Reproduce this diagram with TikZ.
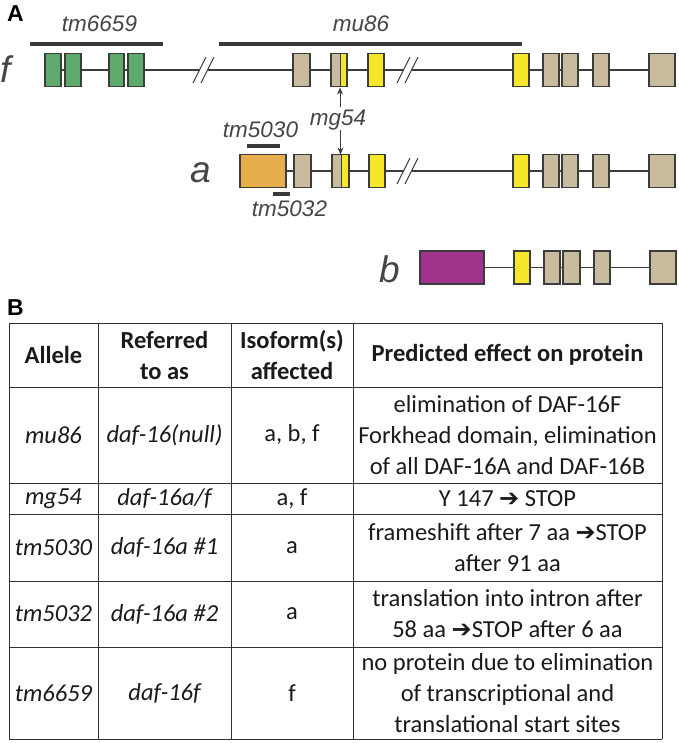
\documentclass[tikz,border=0pt]{standalone}
\usepackage{fontspec}
\setmainfont{Carlito}
\newfontfamily\arialfam{Liberation Sans}
\newfontfamily\dejavufam{DejaVu Sans}
\usetikzlibrary{arrows.meta}
\definecolor{ink}{HTML}{3C3C3C}
\definecolor{exgreen}{HTML}{5DAA6B}
\definecolor{extan}{HTML}{C9BB9E}
\definecolor{exyel}{HTML}{F7E72A}
\definecolor{exorg}{HTML}{E7AE4B}
\definecolor{exmag}{HTML}{A2338A}
\definecolor{txtgray}{HTML}{454545}
\definecolor{barcol}{HTML}{3A3A3A}
\definecolor{tabink}{HTML}{1A1A1A}
\tikzset{
 exonbox/.style={draw=ink, line width=1.1pt},
 intron/.style={draw=ink, line width=1.1pt},
 breakmark/.style={draw=ink, line width=1.1pt},
 delbar/.style={draw=barcol, line width=4.5pt},
 glabel/.style={font=\arialfam\itshape\fontsize{22.5}{27}\selectfont, text=txtgray, inner sep=0pt, anchor=base},
 rowlabel/.style={font=\arialfam\itshape\fontsize{37}{40}\selectfont, text=txtgray, inner sep=0pt, anchor=base},
 panel/.style={font=\arialfam\bfseries\fontsize{23}{26}\selectfont, inner sep=0pt, anchor=base west},
 tline/.style={draw=black!80, line width=1pt},
 cell/.style={font=\fontsize{24.5}{31}\selectfont, text=tabink, align=center, inner sep=0pt},
 hcell/.style={font=\bfseries\fontsize{24.5}{31}\selectfont, text=tabink, align=center, inner sep=0pt},
 mgarrow/.style={-{Stealth[length=7pt,width=6pt]}, draw=ink, line width=1pt},
}
\newcommand\exonrect[4]{\draw[exonbox, fill=#4] (#1,#3-16.5) rectangle (#2,#3+16.5);}
\newcommand\splitexon[4]{%
 \fill[extan] (#1,#4-16.5) rectangle (#2,#4+16.5);
 \fill[exyel] (#2,#4-16.5) rectangle (#3,#4+16.5);
 \draw[ink, line width=0.8pt] (#2,#4-16.5) -- (#2,#4+16.5);
 \draw[exonbox] (#1,#4-16.5) rectangle (#3,#4+16.5);}
\newcommand\brkmark[2]{%
 \draw[breakmark] (#1-10.5,#2+13) -- (#1+2.5,#2-13);
 \draw[breakmark] (#1-2.5,#2+13) -- (#1+10.5,#2-13);}
\newcommand\arr{{\dejavufam\fontsize{24}{28}\selectfont ➔}}
\begin{document}
\begin{tikzpicture}[x=1pt,y=-1pt]
\useasboundingbox (0,0) rectangle (678,743);
% ---------- Panel A ----------
\node[panel] (lblA) at (7,22) {A};
% deletion bars
\draw[delbar] (30,44) -- (163,44);
\draw[delbar] (219,44) -- (522,44);
\node[glabel] (ltm6659) at (99.5,32) {tm6659};
\node[glabel] (lmu86) at (361,32) {mu86};
% row f
\node[rowlabel] (rowf) at (6,83) {f};
\draw[intron] (45,70) -- (199.5,70);
\draw[intron] (207.5,70) -- (403.5,70);
\draw[intron] (411.5,70) -- (675,70);
\brkmark{203.5}{70}
\brkmark{407.5}{70}
\exonrect{45}{61}{70}{exgreen}
\exonrect{65}{81}{70}{exgreen}
\exonrect{109}{124}{70}{exgreen}
\exonrect{128}{144}{70}{exgreen}
\exonrect{293}{310}{70}{extan}
\splitexon{331}{340}{347}{70}
\exonrect{368}{384}{70}{exyel}
\exonrect{513}{529}{70}{exyel}
\exonrect{543}{559}{70}{extan}
\exonrect{562}{578}{70}{extan}
\exonrect{593}{609}{70}{extan}
\exonrect{649}{675}{70}{extan}
% mg54
\node[glabel] (lmg54) at (338,126) {mg54};
\coordinate (mgf) at (340,87.5);
\coordinate (mga) at (340.5,154.5);
\draw[mgarrow] (340,107) -- (mgf);
\draw[mgarrow] (340.5,130) -- (mga);
% row a
\node[rowlabel] (rowa) at (201,183) {a};
\draw[delbar] (247,146) -- (280,146);
\draw[delbar] (273,194) -- (290,194);
\node[glabel] (ltm5030) at (260.5,138) {tm5030};
\node[glabel] (ltm5032) at (289.5,217) {tm5032};
\draw[intron] (286,171) -- (403.5,171);
\draw[intron] (411.5,171) -- (675,171);
\brkmark{407.5}{171}
\exonrect{240}{286}{171}{exorg}
\exonrect{294}{311}{171}{extan}
\splitexon{332}{341}{349}{171}
\exonrect{369}{385}{171}{exyel}
\exonrect{513}{529}{171}{exyel}
\exonrect{543}{559}{171}{extan}
\exonrect{562}{578}{171}{extan}
\exonrect{593}{609}{171}{extan}
\exonrect{649}{675}{171}{extan}
% row b
\node[rowlabel] (rowb) at (390,282) {b};
\draw[intron] (484,267.5) -- (650,267.5);
\exonrect{420}{484}{267.5}{exmag}
\exonrect{514}{530}{267.5}{exyel}
\exonrect{544}{560}{267.5}{extan}
\exonrect{563}{580}{267.5}{extan}
\exonrect{594}{610}{267.5}{extan}
\exonrect{650}{676}{267.5}{extan}
% ---------- Panel B ----------
\node[panel] (lblB) at (7,315) {B};
\foreach \yy in {323,387,483,514,581,647,739} \draw[tline] (9,\yy) -- (662,\yy);
\foreach \xx in {9,98,231,353,662} \draw[tline] (\xx,323) -- (\xx,739);
% header
\node[hcell] (h1) at (53.5,355) {Allele};
\node[hcell] (h2) at (164.5,355) {Referred\\to as};
\node[hcell] (h3) at (292,355) {Isoform(s)\\affected};
\node[hcell] (h4) at (507.5,355) {Predicted effect on protein};
% mu86
\node[cell] (r1a) at (53.5,435) {\itshape mu86};
\node[cell] (r1b) at (164.5,435) {\itshape daf-16(null)};
\node[cell] (r1c) at (292,435) {a, b, f};
\node[cell] (r1d) at (507.5,435) {elimination of DAF-16F\\Forkhead domain, elimination\\of all DAF-16A and DAF-16B};
% mg54
\node[cell] (r2a) at (53.5,498.5) {\itshape mg54};
\node[cell] (r2b) at (164.5,498.5) {\itshape daf-16a/f};
\node[cell] (r2c) at (292,498.5) {a, f};
\node[cell] (r2d) at (507.5,498.5) {Y 147 \arr{} STOP};
% tm5030
\node[cell] (r3a) at (53.5,547.5) {\itshape tm5030};
\node[cell] (r3b) at (164.5,547.5) {\itshape daf-16a \#1};
\node[cell] (r3c) at (292,547.5) {a};
\node[cell] (r3d) at (507.5,547.5) {frameshift after 7 aa \arr STOP\\after 91 aa};
% tm5032
\node[cell] (r4a) at (53.5,614) {\itshape tm5032};
\node[cell] (r4b) at (164.5,614) {\itshape daf-16a \#2};
\node[cell] (r4c) at (292,614) {a};
\node[cell] (r4d) at (507.5,614) {translation into intron after\\58 aa \arr STOP after 6 aa};
% tm6659
\node[cell] (r5a) at (53.5,693) {\itshape tm6659};
\node[cell] (r5b) at (164.5,693) {\itshape daf-16f};
\node[cell] (r5c) at (292,693) {f};
\node[cell] (r5d) at (507.5,693) {no protein due to elimination\\of transcriptional and\\translational start sites};
\end{tikzpicture}
\end{document}
